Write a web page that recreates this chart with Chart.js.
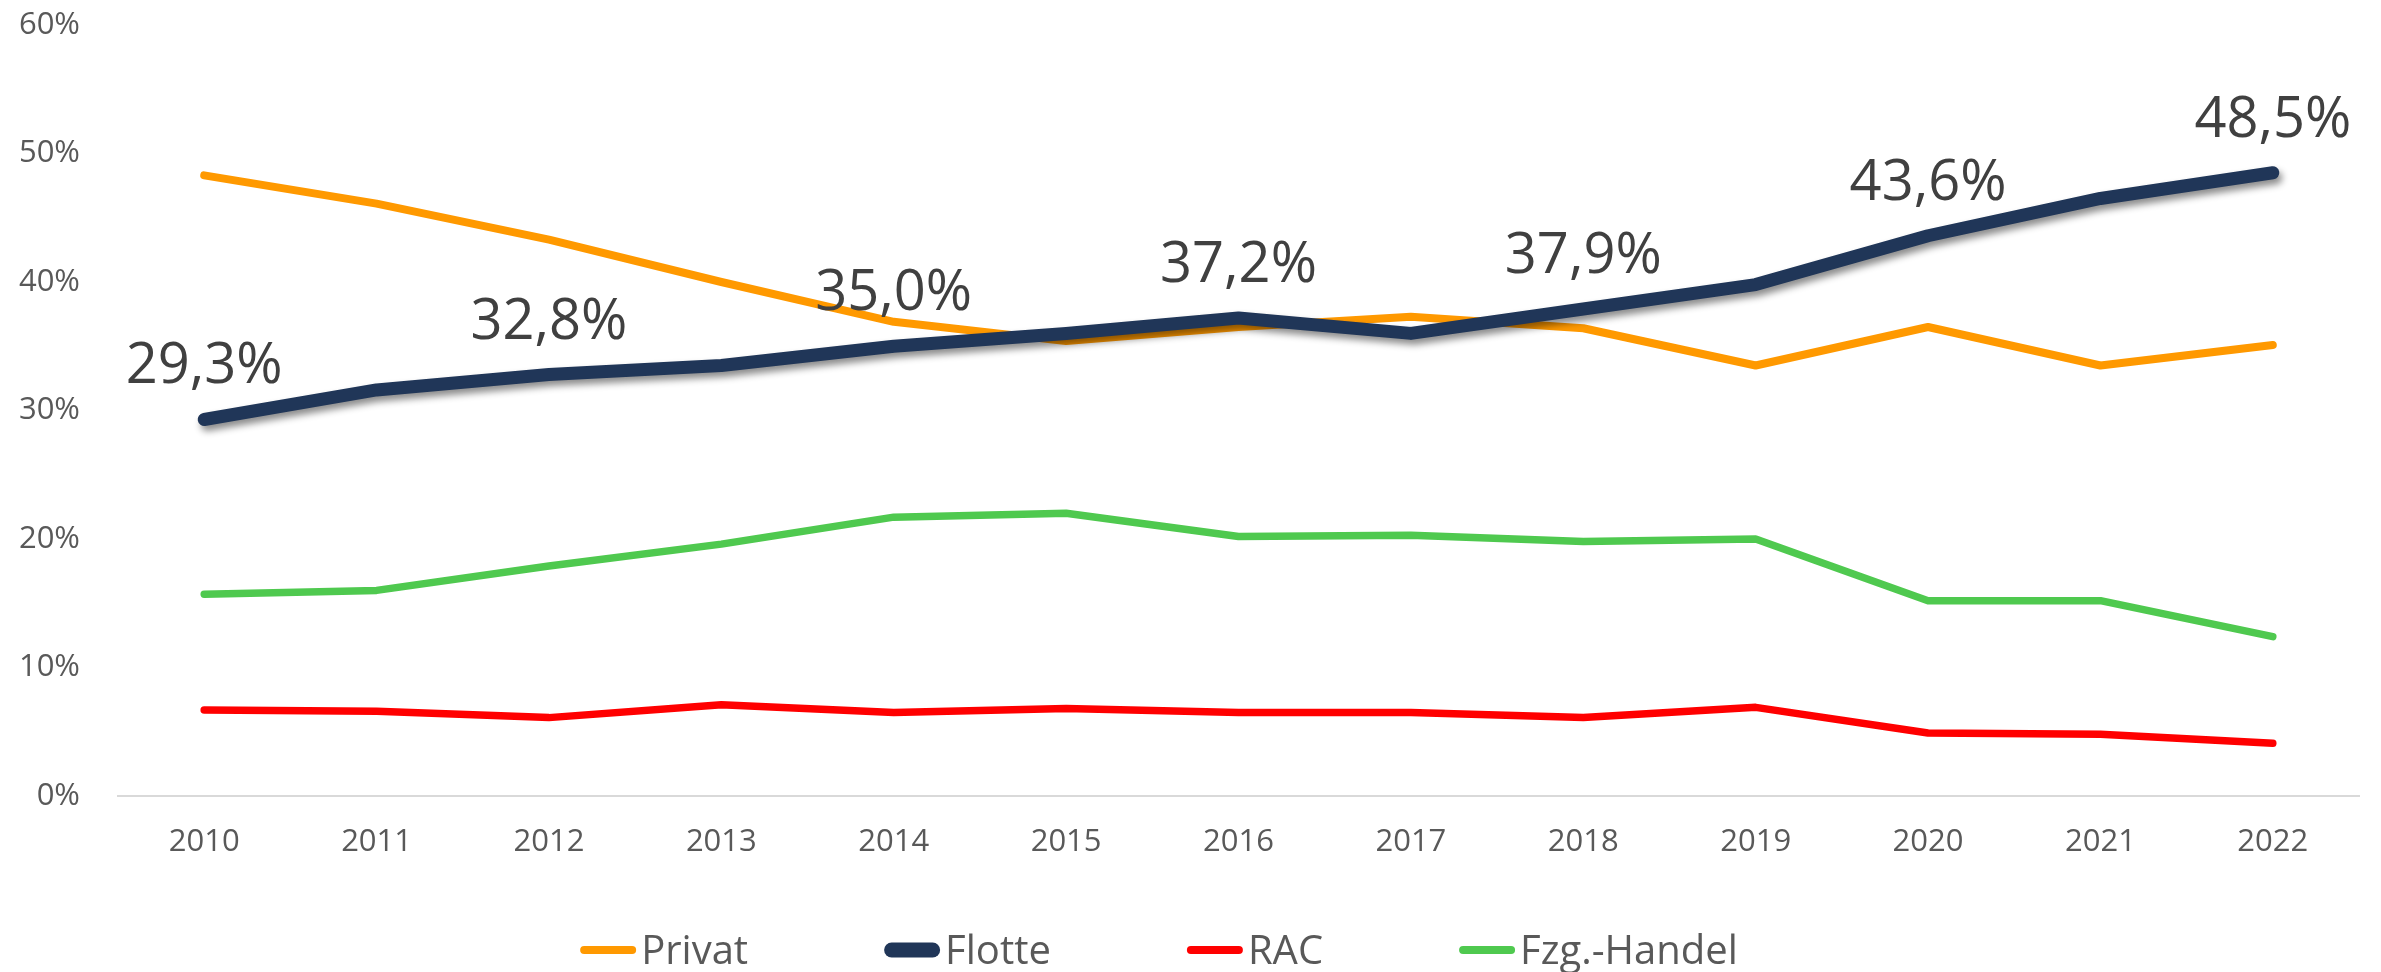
<!DOCTYPE html>
<html>
<head>
<meta charset="utf-8">
<script src="https://cdn.jsdelivr.net/npm/chart.js@4.4.0/dist/chart.umd.min.js"></script>
<style>
html,body{margin:0;padding:0;background:#ffffff;}
#wrap{width:2381px;height:972px;position:relative;}
</style>
</head>
<body>
<div id="wrap"><canvas id="c" width="2381" height="972"></canvas></div>
<script>
// ---- data ----
const years = ['2010','2011','2012','2013','2014','2015','2016','2017','2018','2019','2020','2021','2022'];
const privat = [48.3, 46.1, 43.3, 40.0, 36.9, 35.4, 36.5, 37.3, 36.4, 33.5, 36.5, 33.5, 35.1];
const flotte = [29.3, 31.6, 32.8, 33.5, 35.0, 36.0, 37.2, 36.0, 37.9, 39.8, 43.6, 46.5, 48.5];
const rac    = [6.7, 6.6, 6.1, 7.1, 6.5, 6.8, 6.5, 6.5, 6.1, 6.9, 4.9, 4.8, 4.1];
const handel = [15.7, 16.0, 17.9, 19.6, 21.7, 22.0, 20.2, 20.3, 19.8, 20.0, 15.2, 15.2, 12.4];
const seriesNames = ['Privat', 'Flotte', 'RAC', 'Fzg.-Handel'];
const yTickValues = [0, 10, 20, 30, 40, 50, 60];
const labeledYears = ['2010', '2012', '2014', '2016', '2018', '2020', '2022'];

const fmtPct = v => v.toFixed(1).replace('.', ',') + '%';

const shadowPlugin = {
  id: 'flotteShadow',
  beforeDatasetDraw(chart, args) {
    if (args.index !== 1) return;
    const ctx = chart.ctx;
    ctx.save();
    ctx.shadowColor = 'rgba(0,0,0,0.45)';
    ctx.shadowBlur = 7;
    ctx.shadowOffsetX = 3;
    ctx.shadowOffsetY = 5;
  },
  afterDatasetDraw(chart, args) {
    if (args.index !== 1) return;
    chart.ctx.restore();
  }
};

const labelPlugin = {
  id: 'flotteLabels',
  afterDatasetsDraw(chart) {
    const ctx = chart.ctx;
    const meta = chart.getDatasetMeta(1);
    ctx.save();
    ctx.font = '56px "Open Sans"';
    ctx.fillStyle = '#404040';
    ctx.textAlign = 'center';
    ctx.textBaseline = 'alphabetic';
    years.forEach((yr, i) => {
      if (!labeledYears.includes(yr)) return;
      const p = meta.data[i];
      ctx.fillText(fmtPct(flotte[i]), p.x, p.y - 36);
    });
    ctx.restore();
  }
};

const legendPlugin = {
  id: 'bottomLegend',
  afterDraw(chart) {
    const ctx = chart.ctx;
    const ds = chart.data.datasets;
    ctx.save();
    ctx.font = '40px "Open Sans"';
    const swW = 56, gapT = 5, itemGap = 136;
    const widths = ds.map(d => ctx.measureText(d.label).width);
    let total = 0;
    widths.forEach(w => total += swW + gapT + w);
    total += itemGap * (ds.length - 1);
    let x = 1159 - total / 2;
    const cy = 950;
    ds.forEach((d, i) => {
      const lw = d.legendWidth;
      ctx.beginPath();
      ctx.lineCap = 'round';
      ctx.strokeStyle = d.borderColor;
      ctx.lineWidth = lw;
      ctx.moveTo(x + lw / 2, cy);
      ctx.lineTo(x + swW - lw / 2, cy);
      ctx.stroke();
      ctx.fillStyle = '#595959';
      ctx.textAlign = 'left';
      ctx.textBaseline = 'alphabetic';
      ctx.fillText(d.label, x + swW + gapT, 964);
      x += swW + gapT + widths[i] + itemGap;
    });
    ctx.restore();
  }
};

const common = { pointRadius: 0, pointHoverRadius: 0, tension: 0, borderCapStyle: 'round', borderJoinStyle: 'round', fill: false };

new Chart(document.getElementById('c'), {
  type: 'line',
  data: {
    labels: years,
    datasets: [
      Object.assign({ label: seriesNames[0], data: privat, borderColor: '#FF9900', borderWidth: 8, legendWidth: 8, order: 1 }, common),
      Object.assign({ label: seriesNames[1], data: flotte, borderColor: '#203658', borderWidth: 13, legendWidth: 15, order: 0 }, common),
      Object.assign({ label: seriesNames[2], data: rac, borderColor: '#FF0000', borderWidth: 7.5, legendWidth: 8, order: 2 }, common),
      Object.assign({ label: seriesNames[3], data: handel, borderColor: '#4FC94F', borderWidth: 7.5, legendWidth: 8, order: 3 }, common)
    ]
  },
  options: {
    responsive: false,
    devicePixelRatio: 1,
    animation: false,
    layout: { padding: { top: 25, right: 22, bottom: 111, left: 0 } },
    plugins: {
      legend: { display: false },
      tooltip: { enabled: false }
    },
    scales: {
      x: {
        offset: true,
        afterFit: s => { s.height = 65; s.paddingLeft = 0; s.paddingRight = 0; s.paddingTop = 0; s.paddingBottom = 0; },
        grid: { display: false, drawTicks: false },
        border: { display: true, color: '#D9D9D9', width: 2 },
        ticks: {
          font: { family: 'Open Sans', size: 31 },
          color: '#595959',
          padding: 28,
          maxRotation: 0,
          autoSkip: false
        }
      },
      y: {
        min: 0,
        max: 60,
        afterFit: s => { s.width = 118; s.paddingTop = 0; s.paddingBottom = 0; s.paddingLeft = 0; s.paddingRight = 0; },
        afterBuildTicks: s => { s.ticks = yTickValues.map(v => ({ value: v })); },
        grid: { display: false, drawTicks: false },
        border: { display: false },
        ticks: {
          font: { family: 'Open Sans', size: 31 },
          color: '#595959',
          padding: 38,
          callback: v => v + '%'
        }
      }
    }
  },
  plugins: [shadowPlugin, labelPlugin, legendPlugin]
});
</script>
</body>
</html>
